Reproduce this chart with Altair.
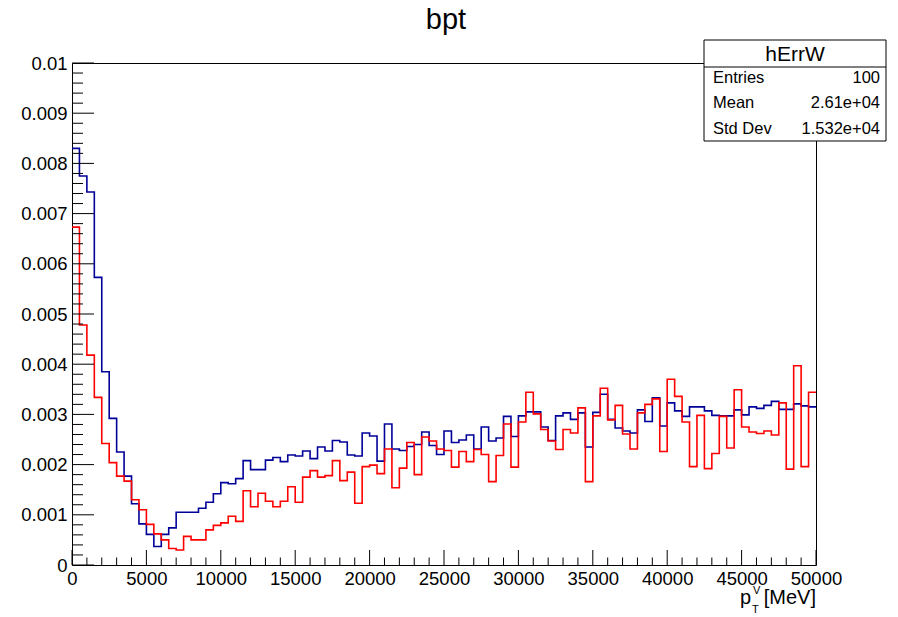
import altair as alt
import pandas as pd
import numpy as np

# ---------------- data ----------------
N_BINS = 100
X_MIN = 0
X_MAX = 50000
Y_MAX = 0.01

BLUE_VALUES = [
    0.00830, 0.00775, 0.00743, 0.00573, 0.00385, 0.00292, 0.00225, 0.00177, 0.00122, 0.00082,
    0.00061, 0.00037, 0.00061, 0.00074, 0.00105, 0.00105, 0.00105, 0.00113, 0.00125, 0.00142,
    0.00164, 0.00162, 0.00172, 0.00208, 0.00190, 0.00190, 0.00209, 0.00214, 0.00206, 0.00219,
    0.00217, 0.00227, 0.00212, 0.00235, 0.00227, 0.00248, 0.00245, 0.00219, 0.00217, 0.00263,
    0.00257, 0.00207, 0.00281, 0.00231, 0.00228, 0.00236, 0.00240, 0.00265, 0.00238, 0.00220,
    0.00267, 0.00244, 0.00249, 0.00259, 0.00231, 0.00275, 0.00247, 0.00253, 0.00296, 0.00256,
    0.00297, 0.00305, 0.00305, 0.00275, 0.00248, 0.00297, 0.00303, 0.00290, 0.00303, 0.00235,
    0.00304, 0.00340, 0.00290, 0.00273, 0.00267, 0.00263, 0.00309, 0.00286, 0.00333, 0.00277,
    0.00323, 0.00307, 0.00296, 0.00315, 0.00315, 0.00307, 0.00298, 0.00297, 0.00297, 0.00309,
    0.00299, 0.00315, 0.00312, 0.00318, 0.00326, 0.00310, 0.00310, 0.00321, 0.00317, 0.00315,
]

RED_VALUES = [
    0.00673, 0.00478, 0.00418, 0.00334, 0.00242, 0.00204, 0.00177, 0.00167, 0.00130, 0.00110,
    0.00081, 0.00062, 0.00050, 0.00033, 0.00030, 0.00057, 0.00050, 0.00050, 0.00070, 0.00079,
    0.00084, 0.00097, 0.00087, 0.00148, 0.00116, 0.00143, 0.00127, 0.00116, 0.00127, 0.00156,
    0.00125, 0.00175, 0.00188, 0.00175, 0.00178, 0.00208, 0.00168, 0.00185, 0.00123, 0.00196,
    0.00199, 0.00182, 0.00231, 0.00154, 0.00193, 0.00244, 0.00180, 0.00255, 0.00247, 0.00231,
    0.00228, 0.00195, 0.00226, 0.00206, 0.00230, 0.00220, 0.00166, 0.00218, 0.00281, 0.00195,
    0.00285, 0.00344, 0.00301, 0.00270, 0.00247, 0.00230, 0.00270, 0.00263, 0.00313, 0.00166,
    0.00297, 0.00352, 0.00289, 0.00318, 0.00261, 0.00231, 0.00303, 0.00320, 0.00331, 0.00226,
    0.00370, 0.00336, 0.00285, 0.00196, 0.00298, 0.00192, 0.00222, 0.00296, 0.00233, 0.00349,
    0.00275, 0.00265, 0.00262, 0.00267, 0.00259, 0.00323, 0.00191, 0.00397, 0.00196, 0.00344,
]

X_MAJOR_TICKS = [0, 5000, 10000, 15000, 20000, 25000, 30000, 35000, 40000, 45000, 50000]
X_MINOR_TICKS = [v for v in range(0, 50001, 1000) if v % 5000 != 0]
Y_MAJOR_TICKS = [0, 0.001, 0.002, 0.003, 0.004, 0.005, 0.006, 0.007, 0.008, 0.009, 0.01]
Y_MINOR_TICKS = [round(i * 0.0002, 4) for i in range(51) if i % 5 != 0]

TITLE = "bpt"
STATS_NAME = "hErrW"
STATS_LABELS = ["Entries", "Mean", "Std Dev"]
STATS_VALUES = ["100", "2.61e+04", "1.532e+04"]

BLUE = "#000099"
RED = "#ff0000"
FONT = "Liberation Sans"

W, H = 744, 502

# ---------------- build table ----------------
edges = np.linspace(X_MIN, X_MAX, N_BINS + 1)


def hist_frame(vals):
    xs = list(edges)
    ys = list(vals) + [vals[-1]]
    return pd.DataFrame({"edge": xs, "value": ys})


xscale = alt.Scale(domain=[X_MIN, X_MAX], nice=False, zero=False)
yscale = alt.Scale(domain=[0, Y_MAX], nice=False)

x_axis = alt.Axis(values=X_MAJOR_TICKS, format="d", ticks=False, domain=False, grid=False,
                  labelFontSize=18.5, labelFont=FONT, labelColor="black", labelPadding=4,
                  labelFlush=False, labelOverlap=False, title=None)
y_axis = alt.Axis(values=Y_MAJOR_TICKS, format=".3~f", ticks=False, domain=False, grid=False,
                  labelFontSize=18.5, labelFont=FONT, labelColor="black", labelPadding=5,
                  labelOverlap=False, labelFlush=False, title=None)

blue_line = alt.Chart(hist_frame(BLUE_VALUES)).mark_line(
    interpolate="step-after", color=BLUE, strokeWidth=1.6, clip=True
).encode(
    x=alt.X("edge:Q", scale=xscale, axis=x_axis),
    y=alt.Y("value:Q", scale=yscale, axis=y_axis),
)

red_line = alt.Chart(hist_frame(RED_VALUES)).mark_line(
    interpolate="step-after", color=RED, strokeWidth=1.6, clip=True
).encode(
    x=alt.X("edge:Q", scale=xscale),
    y=alt.Y("value:Q", scale=yscale),
)

# tick marks (pointing inward like ROOT)
xmaj = alt.Chart(pd.DataFrame({"t": X_MAJOR_TICKS})).mark_rule(color="black", strokeWidth=1).encode(
    x=alt.X("t:Q", scale=xscale), y=alt.value(H), y2=alt.value(H - 15))
xmin = alt.Chart(pd.DataFrame({"t": X_MINOR_TICKS})).mark_rule(color="black", strokeWidth=1).encode(
    x=alt.X("t:Q", scale=xscale), y=alt.value(H), y2=alt.value(H - 7.5))
ymaj = alt.Chart(pd.DataFrame({"t": Y_MAJOR_TICKS})).mark_rule(color="black", strokeWidth=1).encode(
    y=alt.Y("t:Q", scale=yscale), x=alt.value(0), x2=alt.value(22))
ymin = alt.Chart(pd.DataFrame({"t": Y_MINOR_TICKS})).mark_rule(color="black", strokeWidth=1).encode(
    y=alt.Y("t:Q", scale=yscale), x=alt.value(0), x2=alt.value(11))


def label(text, x, y, size, align="left", baseline="alphabetic"):
    return alt.Chart(pd.DataFrame({"t": [text]})).mark_text(
        font=FONT, fontSize=size, color="black", align=align, baseline=baseline
    ).encode(text="t:N", x=alt.value(x), y=alt.value(y))


# title
title = label(TITLE, 374, -43, 29, align="center", baseline="middle")

# x-axis title p_T^V [MeV]
xt_p = label("p", 668, 541, 20)
xt_sup = label("V", 681, 531, 11)
xt_sub = label("T", 680, 550, 11)
xt_unit = label("[MeV]", 744, 541, 20, align="right")

# stats box
box = alt.Chart(pd.DataFrame({"a": [0]})).mark_rect(
    fill="white", stroke="black", strokeWidth=1
).encode(x=alt.value(632), x2=alt.value(814), y=alt.value(-23), y2=alt.value(78))
box_sep = alt.Chart(pd.DataFrame({"a": [0]})).mark_rule(color="black", strokeWidth=1).encode(
    x=alt.value(632), x2=alt.value(814), y=alt.value(4))
box_name = label(STATS_NAME, 723, -8, 21, align="center", baseline="middle")
row_y = [15, 40, 66]
box_texts = []
for lab, val, yy in zip(STATS_LABELS, STATS_VALUES, row_y):
    box_texts.append(label(lab, 641, yy, 16.5, align="left", baseline="middle"))
    box_texts.append(label(val, 808, yy, 16.5, align="right", baseline="middle"))

chart = alt.layer(
    blue_line, red_line, xmaj, xmin, ymaj, ymin, title,
    xt_p, xt_sup, xt_sub, xt_unit,
    box, box_sep, box_name, *box_texts,
).properties(
    width=W, height=H,
    padding={"left": 64, "top": 55, "right": 72, "bottom": 50},
    autosize=alt.AutoSizeParams(type="none"),
    background="white",
).configure_view(stroke="black", strokeWidth=1)

chart.save("out.html", embed_options={"renderer": "svg", "actions": False})
